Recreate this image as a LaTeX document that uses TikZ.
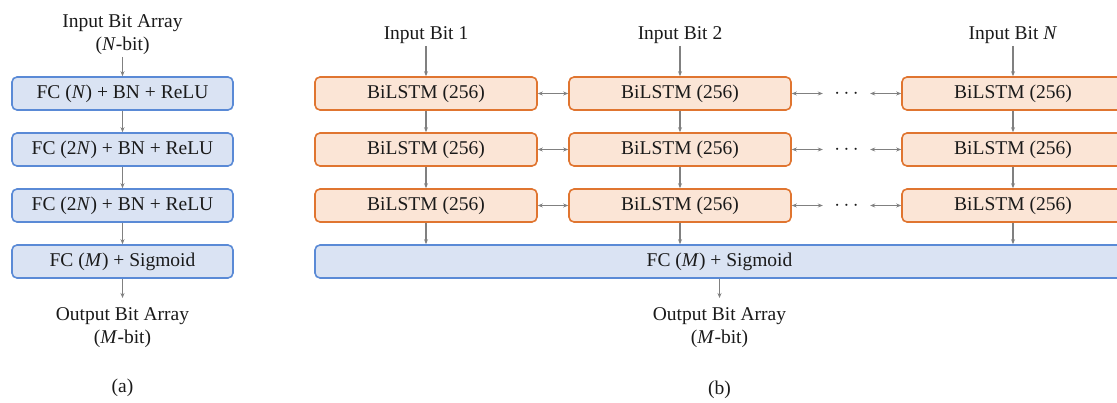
\documentclass[tikz,border=0pt]{standalone}
\usepackage{fontspec}
\setmainfont{Liberation Serif}
\usetikzlibrary{arrows.meta}
\definecolor{bfill}{HTML}{DAE3F3}
\definecolor{bdraw}{HTML}{5A8AD6}
\definecolor{ofill}{HTML}{FBE5D6}
\definecolor{odraw}{HTML}{E07530}
\definecolor{agray}{HTML}{808080}
\definecolor{txt}{HTML}{1A1A1A}
\tikzset{
  every node/.style={font=\fontsize{19.5}{23}\selectfont, text=txt},
  fcbox/.style={draw=bdraw, fill=bfill, line width=1.6pt, rounded corners=5pt, minimum width=221pt, minimum height=33pt, inner sep=0pt},
  lstmbox/.style={draw=odraw, fill=ofill, line width=1.6pt, rounded corners=5pt, minimum width=222pt, minimum height=33pt, inner sep=0pt},
  lbl/.style={align=center, inner sep=2pt},
  outlbl/.style={align=center, inner xsep=2pt, inner ysep=9pt},
  arr/.style={draw=agray, line width=1.2pt, -{Stealth[length=5pt,width=4pt]}},
  darr/.style={draw=agray, line width=1.2pt, {Stealth[length=5pt,width=4pt]}-{Stealth[length=5pt,width=4pt]}},
  dots/.style={minimum width=47pt, inner sep=0pt}
}
\begin{document}
\begin{tikzpicture}[x=1pt,y=-1pt]
\useasboundingbox (0,0) rectangle (1117,403);
\clip (0,0) rectangle (1117,403);
% (a)
\node[lbl, anchor=south] (ain) at (122.5,57) {Input Bit Array\\(\textit{N}-bit)};
\node[fcbox] (a1) at (122.5,93.5) {FC (\textit{N}) + BN + ReLU};
\node[fcbox] (a2) at (122.5,149.5) {FC (2\textit{N}) + BN + ReLU};
\node[fcbox] (a3) at (122.5,205.5) {FC (2\textit{N}) + BN + ReLU};
\node[fcbox] (a4) at (122.5,261.5) {FC (\textit{M}) + Sigmoid};
\node[outlbl, anchor=north] (aout) at (122.5,298) {Output Bit Array\\(\textit{M}-bit)};
\node (alab) at (122.5,388) {(a)};
\draw[arr] (ain.south) -- (a1.north);
\draw[arr] (a1) -- (a2);
\draw[arr] (a2) -- (a3);
\draw[arr] (a3) -- (a4);
\draw[arr] (a4.south) -- (aout.north);
% (b)
\node[lbl, anchor=south] (in1) at (426,46) {Input Bit 1};
\node[lbl, anchor=south] (in2) at (680,46) {Input Bit 2};
\node[lbl, anchor=south] (in3) at (1013,46) {Input Bit \textit{N}};
\foreach \r/\y in {1/93.5,2/149.5,3/205.5}{
  \node[lstmbox] (r\r1) at (426,\y) {BiLSTM (256)};
  \node[lstmbox] (r\r2) at (680,\y) {BiLSTM (256)};
  \node[lstmbox] (r\r3) at (1013,\y) {BiLSTM (256)};
  \node[dots] (d\r) at (846.5,\y) {$\cdots$};
  \draw[darr] (r\r1) -- (r\r2);
  \draw[darr] (r\r2) -- (d\r);
  \draw[darr] (d\r) -- (r\r3);
}
\node[fcbox, minimum width=809pt] (fc) at (719.5,261.5) {FC (\textit{M}) + Sigmoid};
\node[outlbl, anchor=north] (bout) at (719.5,298) {Output Bit Array\\(\textit{M}-bit)};
\node (blab) at (719.5,390) {(b)};
\foreach \c in {1,2,3}{
  \draw[arr] (in\c.south) -- (r1\c.north);
  \draw[arr] (r1\c) -- (r2\c);
  \draw[arr] (r2\c) -- (r3\c);
  \draw[arr] (r3\c.south) -- (r3\c.south |- fc.north);
}
\draw[arr] (fc.south) -- (bout.north);
\end{tikzpicture}
\end{document}
